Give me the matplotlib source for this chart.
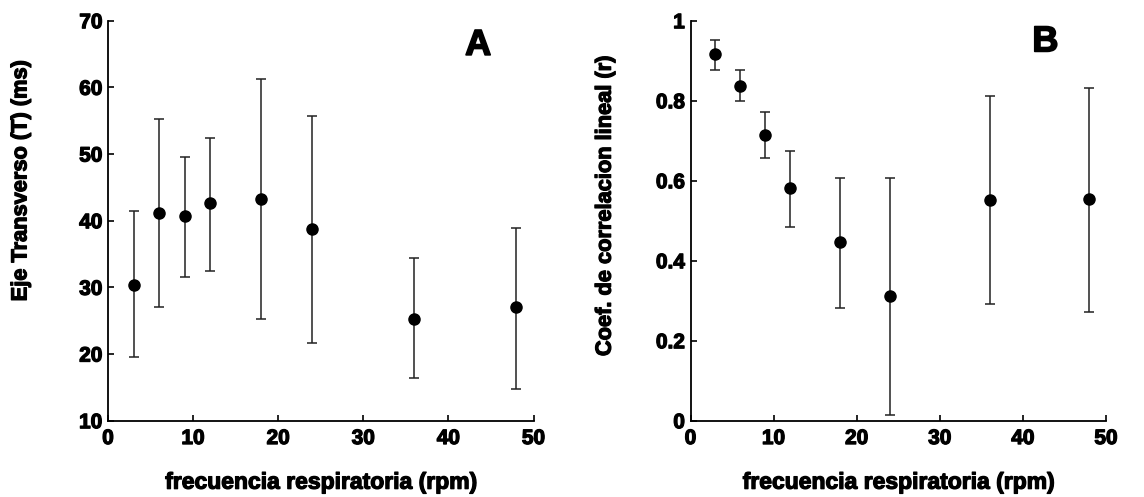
import matplotlib
matplotlib.use("Agg")
import matplotlib.pyplot as plt
import matplotlib.patheffects as pe

plt.rcParams['font.family'] = ['Liberation Sans', 'DejaVu Sans']
plt.rcParams['font.weight'] = 'bold'

freq = [3, 6, 9, 12, 18, 24, 36, 48]

# Panel A: Eje Transverso (ms)
a_mean = [30.4, 41.2, 40.7, 42.6, 43.2, 38.7, 25.3, 27.0]
a_low  = [19.5, 27.1, 31.6, 32.4, 25.3, 21.7, 16.4, 14.8]
a_high = [41.4, 55.2, 49.6, 52.4, 61.3, 55.7, 34.4, 38.9]

# Panel B: Coef. de correlacion lineal (r)
b_mean = [0.917, 0.838, 0.714, 0.581, 0.446, 0.311, 0.551, 0.554]
b_low  = [0.877, 0.799, 0.657, 0.485, 0.283, 0.014, 0.292, 0.273]
b_high = [0.952, 0.877, 0.771, 0.674, 0.607, 0.607, 0.811, 0.832]

fig = plt.figure(figsize=(11.44, 4.97), dpi=100)
W, H = 1144, 497
axA = fig.add_axes([108 / W, 1 - 420.7 / H, 425.5 / W, 400 / H])
axB = fig.add_axes([690.5 / W, 1 - 420.7 / H, 415.5 / W, 400 / H])

heavy = [pe.withStroke(linewidth=0.9, foreground='black')]

def draw(ax, mean, low, high, ylim, yticks, yticklabels, ylabel, letter, lpos, ylab_y):
    lo = [m - l for m, l in zip(mean, low)]
    hi = [h - m for m, h in zip(mean, high)]
    ax.errorbar(freq, mean, yerr=[lo, hi], fmt='o', color='black', ecolor='#222222',
                elinewidth=1.1, capsize=3.5, capthick=1.1, markersize=8)
    ax.set_xlim(0, 50)
    ax.set_ylim(*ylim)
    ax.set_xticks([0, 10, 20, 30, 40, 50])
    ax.set_yticks(yticks)
    ax.set_yticklabels(yticklabels)
    for s in ['top', 'right']:
        ax.spines[s].set_visible(False)
    for s in ['left', 'bottom']:
        ax.spines[s].set_linewidth(1.3)
    ax.tick_params(direction='in', length=4, width=1.2, labelsize=15)
    ax.tick_params(axis='y', pad=4)
    ax.tick_params(axis='x', pad=6)
    for lab in ax.get_xticklabels() + ax.get_yticklabels():
        lab.set_fontweight('bold')
        lab.set_path_effects(heavy)
    xl = ax.set_xlabel('frecuencia respiratoria (rpm)', fontsize=16.5, fontweight='bold')
    xl.set_path_effects(heavy)
    ax.xaxis.set_label_coords(0.5, -0.125)
    yl = ax.set_ylabel(ylabel, fontsize=15.7, fontweight='bold')
    yl.set_path_effects(heavy)
    ax.yaxis.set_label_coords(-0.18, ylab_y)
    t = ax.text(lpos[0], lpos[1], letter, fontsize=26, fontweight='bold', ha='center', va='center')
    t.set_path_effects([pe.withStroke(linewidth=1.2, foreground='black')])

draw(axA, a_mean, a_low, a_high, (10, 70), [10, 20, 30, 40, 50, 60, 70],
     ['10', '20', '30', '40', '50', '60', '70'], 'Eje Transverso (T) (ms)', 'A', (43.5, 66.3), 0.6)
draw(axB, b_mean, b_low, b_high, (0, 1), [0, 0.2, 0.4, 0.6, 0.8, 1.0],
     ['0', '0.2', '0.4', '0.6', '0.8', '1'], 'Coef. de correlacion lineal (r)', 'B', (42.7, 0.947), 0.537)

fig.savefig('out.png', dpi=100)
